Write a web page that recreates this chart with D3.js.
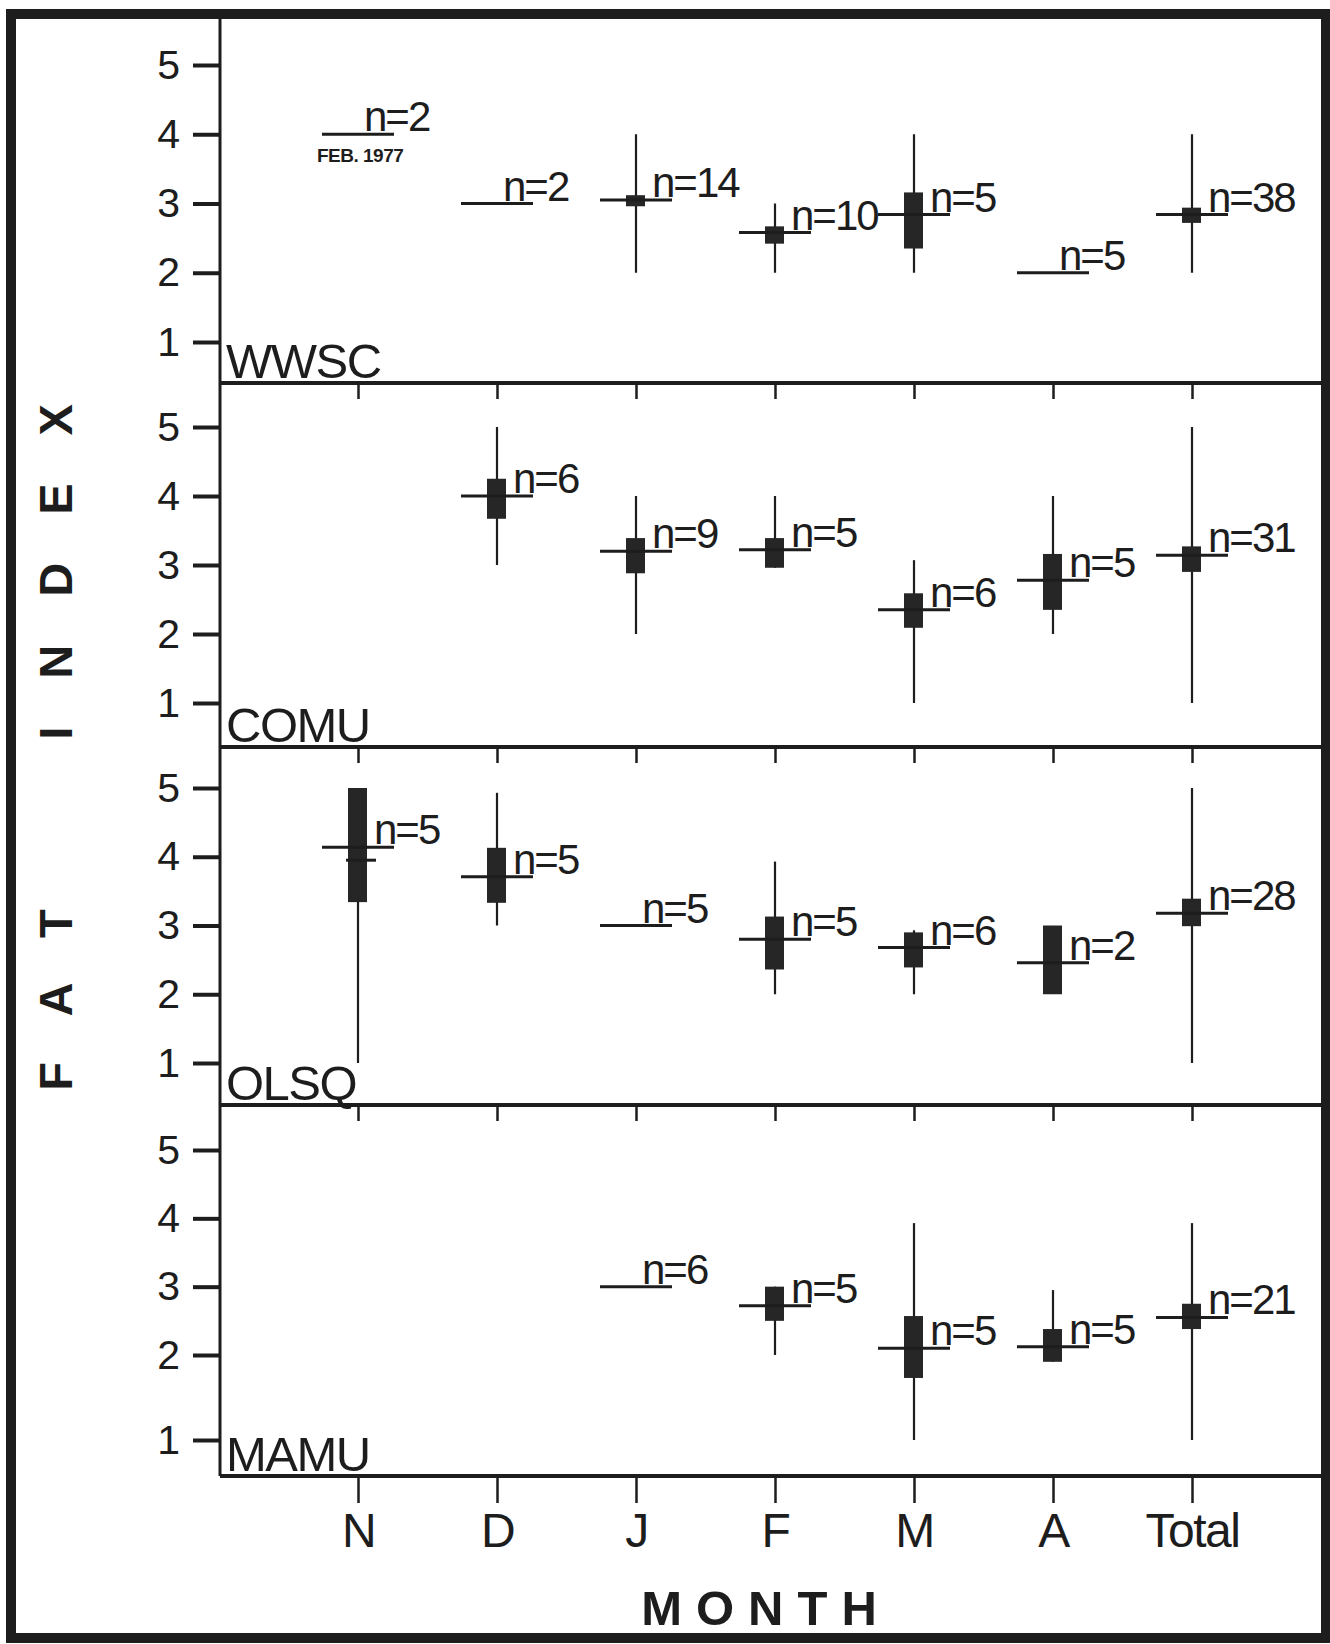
<!DOCTYPE html>
<html>
<head>
<meta charset="utf-8">
<script src="https://cdn.jsdelivr.net/npm/d3@7"></script>
<style>
  html, body { margin: 0; padding: 0; background: #fff; }
  svg { display: block; font-family: "Liberation Sans", Arial, Helvetica, sans-serif; }
</style>
</head>
<body>
<svg id="chart" width="1330" height="1644"></svg>
<script>
// ---- data ---------------------------------------------------------------
const months = ["N", "D", "J", "F", "M", "A", "Total"];
const speciesCodes = ["WWSC", "COMU", "OLSQ", "MAMU"];
const yTicks = [1, 2, 3, 4, 5];

// WWSC
const wwscMedian  = [4.0, 3.0, 3.05, 2.58, 2.84, 2.0, 2.84];
const wwscBoxLow  = [null, null, 2.96, 2.42, 2.35, null, 2.72];
const wwscBoxHigh = [null, null, 3.12, 2.67, 3.16, null, 2.94];
const wwscMin     = [null, null, 2.0, 2.0, 2.0, null, 2.0];
const wwscMax     = [null, null, 4.0, 3.0, 4.0, null, 4.0];
const wwscN       = [2, 2, 14, 10, 5, 5, 38];

// COMU
const comuMedian  = [null, 4.0, 3.2, 3.22, 2.35, 2.78, 3.14];
const comuBoxLow  = [null, 3.67, 2.88, 2.96, 2.09, 2.35, 2.9];
const comuBoxHigh = [null, 4.25, 3.39, 3.39, 2.59, 3.16, 3.27];
const comuMin     = [null, 3.0, 2.0, 2.96, 1.0, 2.0, 1.0];
const comuMax     = [null, 5.0, 4.0, 4.0, 3.07, 4.0, 5.0];
const comuN       = [null, 6, 9, 5, 6, 5, 31];

// OLSQ
const olsqMedian  = [4.14, 3.71, 3.0, 2.8, 2.68, 2.46, 3.18];
const olsqBoxLow  = [3.34, 3.33, null, 2.36, 2.39, 2.0, 2.99];
const olsqBoxHigh = [5.0, 4.13, null, 3.13, 2.9, 3.0, 3.39];
const olsqMin     = [1.0, 3.0, null, 2.0, 2.0, null, 1.0];
const olsqMax     = [5.0, 4.93, null, 3.93, 2.93, null, 5.0];
const olsqN       = [5, 5, 5, 5, 6, 2, 28];
const olsqSecondMark = [3.95, null, null, null, null, null, null];

// MAMU
const mamuMedian  = [null, null, 3.0, 2.72, 2.1, 2.12, 2.55];
const mamuBoxLow  = [null, null, null, 2.5, 1.73, 1.92, 2.38];
const mamuBoxHigh = [null, null, null, 3.0, 2.57, 2.38, 2.75];
const mamuMin     = [null, null, null, 2.0, 1.0, 1.92, 1.0];
const mamuMax     = [null, null, null, 3.0, 3.93, 2.95, 3.93];
const mamuN       = [null, null, 6, 5, 5, 5, 21];

// Note printed under the November WWSC sample
const notes = [{ species: "WWSC", month: "N", text: "FEB. 1977" }];

// ---- assemble per-panel records -------------------------------------------
function rows(median, lo, hi, mn, mx, n, second) {
  return months.map((m, i) => ({
    month: m, median: median[i], lo: lo[i], hi: hi[i],
    min: mn[i], max: mx[i], n: n[i], second: second ? second[i] : null
  })).filter(d => d.median != null);
}
const panelData = [
  rows(wwscMedian, wwscBoxLow, wwscBoxHigh, wwscMin, wwscMax, wwscN),
  rows(comuMedian, comuBoxLow, comuBoxHigh, comuMin, comuMax, comuN),
  rows(olsqMedian, olsqBoxLow, olsqBoxHigh, olsqMin, olsqMax, olsqN, olsqSecondMark),
  rows(mamuMedian, mamuBoxLow, mamuBoxHigh, mamuMin, mamuMax, mamuN)
];

// ---- layout ---------------------------------------------------------------
const W = 1330, H = 1644;
const ink = "#1d1d1d";
const axisX = 220, rightX = 1326, bottomY = 1476;
const panels = [
  { top: 14,   bottom: 383,  dom: [1, 5],    rng: [342, 65] },
  { top: 383,  bottom: 747,  dom: [1, 5],    rng: [703, 427] },
  { top: 747,  bottom: 1105, dom: [1, 5],    rng: [1063, 788] },
  { top: 1105, bottom: 1476, dom: [1, 2, 5], rng: [1440, 1355, 1150] }
];

const svg = d3.select("#chart");
svg.append("rect").attr("width", W).attr("height", H).attr("fill", "#fff");

const x = d3.scalePoint().domain(months).range([358, 1192]);

panels.forEach((p, pi) => {
  const y = d3.scaleLinear().domain(p.dom).range(p.rng);
  const g = svg.append("g").attr("class", "panel");

  // y axis ticks and labels
  const ya = g.append("g")
    .attr("transform", `translate(${axisX},0)`)
    .call(d3.axisLeft(y).tickValues(yTicks).tickSize(27).tickPadding(13).tickFormat(d3.format("d")));
  ya.select(".domain").remove();
  ya.selectAll(".tick line").attr("stroke", ink).attr("stroke-width", 4);
  ya.selectAll(".tick text")
    .attr("fill", ink).attr("font-size", 41).attr("font-family", "Liberation Sans, Arial, sans-serif");

  // panel separator and month ticks hanging from it
  if (pi > 0) {
    const ta = g.append("g")
      .attr("transform", `translate(0,${p.top})`)
      .call(d3.axisBottom(x).tickSize(16).tickFormat(""));
    ta.select(".domain").remove();
    ta.selectAll(".tick line").attr("stroke", ink).attr("stroke-width", 2.5);
    g.append("line")
      .attr("x1", axisX).attr("x2", rightX).attr("y1", p.top).attr("y2", p.top)
      .attr("stroke", ink).attr("stroke-width", 4);
  }

  // species code
  g.append("text")
    .attr("x", axisX + 6).attr("y", p.bottom - 5)
    .attr("font-size", 49).attr("letter-spacing", -1.5).attr("fill", ink)
    .text(speciesCodes[pi]);

  const items = g.selectAll(".item").data(panelData[pi]).join("g").attr("class", "item");

  // whiskers (range)
  items.filter(d => d.min != null)
    .append("line")
    .attr("x1", d => x(d.month)).attr("x2", d => x(d.month))
    .attr("y1", d => y(d.max)).attr("y2", d => y(d.min))
    .attr("stroke", ink).attr("stroke-width", 2.2);

  // boxes
  items.filter(d => d.lo != null)
    .append("rect")
    .attr("x", d => x(d.month) - 10).attr("width", 19)
    .attr("y", d => y(d.hi)).attr("height", d => y(d.lo) - y(d.hi))
    .attr("fill", "#262626");

  // median bars
  items.append("line")
    .attr("x1", d => x(d.month) - 36).attr("x2", d => x(d.month) + 36)
    .attr("y1", d => y(d.median)).attr("y2", d => y(d.median))
    .attr("stroke", ink).attr("stroke-width", 3);

  // short secondary tick
  items.filter(d => d.second != null)
    .append("line")
    .attr("x1", d => x(d.month) - 12).attr("x2", d => x(d.month) + 18)
    .attr("y1", d => y(d.second)).attr("y2", d => y(d.second))
    .attr("stroke", ink).attr("stroke-width", 3);

  // sample sizes, sitting on the median bar
  items.append("text")
    .attr("x", d => x(d.month) + (d.lo != null ? 16 : 6))
    .attr("y", d => y(d.median) - 3)
    .attr("font-size", 42).attr("letter-spacing", -2).attr("fill", ink)
    .text(d => "n=" + d.n);

  // notes
  notes.filter(nt => nt.species === speciesCodes[pi]).forEach(nt => {
    const d = panelData[pi].find(r => r.month === nt.month);
    g.append("text")
      .attr("x", x(nt.month) - 41).attr("y", y(d.median) + 28)
      .attr("font-size", 19).attr("font-weight", "bold").attr("letter-spacing", -0.5)
      .attr("fill", ink).text(nt.text);
  });
});

// vertical axis line through all panels
svg.append("line")
  .attr("x1", axisX).attr("x2", axisX).attr("y1", 14).attr("y2", bottomY)
  .attr("stroke", ink).attr("stroke-width", 3);

// bottom month axis
const xa = svg.append("g")
  .attr("transform", `translate(0,${bottomY})`)
  .call(d3.axisBottom(x).tickSize(27));
xa.select(".domain").remove();
xa.selectAll(".tick line").attr("stroke", ink).attr("stroke-width", 2.5);
xa.selectAll(".tick text")
  .attr("y", 71).attr("dy", 0)
  .attr("fill", ink).attr("font-size", 48).attr("letter-spacing", -1.5)
  .attr("font-family", "Liberation Sans, Arial, sans-serif");
svg.append("line")
  .attr("x1", axisX).attr("x2", rightX).attr("y1", bottomY).attr("y2", bottomY)
  .attr("stroke", ink).attr("stroke-width", 4);

// axis titles
svg.append("text")
  .attr("x", 759 + 7).attr("y", 1625)
  .attr("text-anchor", "middle").attr("font-size", 49).attr("font-weight", "bold")
  .attr("letter-spacing", 14).attr("fill", ink)
  .text("MONTH");

const titleParts = [{ t: "FAT", c: 1000 }, { t: "INDEX", c: 572 }];
titleParts.forEach(tp => {
  svg.append("text")
    .attr("transform", `translate(72,${tp.c - 24}) rotate(-90)`)
    .attr("text-anchor", "middle").attr("font-size", 47).attr("font-weight", "bold")
    .attr("letter-spacing", 48).attr("fill", ink)
    .text(tp.t);
});

// outer frame
svg.append("rect")
  .attr("x", 11).attr("y", 14).attr("width", rightX - 11).attr("height", 1638 - 14)
  .attr("fill", "none").attr("stroke", ink).attr("stroke-width", 10);
</script>
</body>
</html>
